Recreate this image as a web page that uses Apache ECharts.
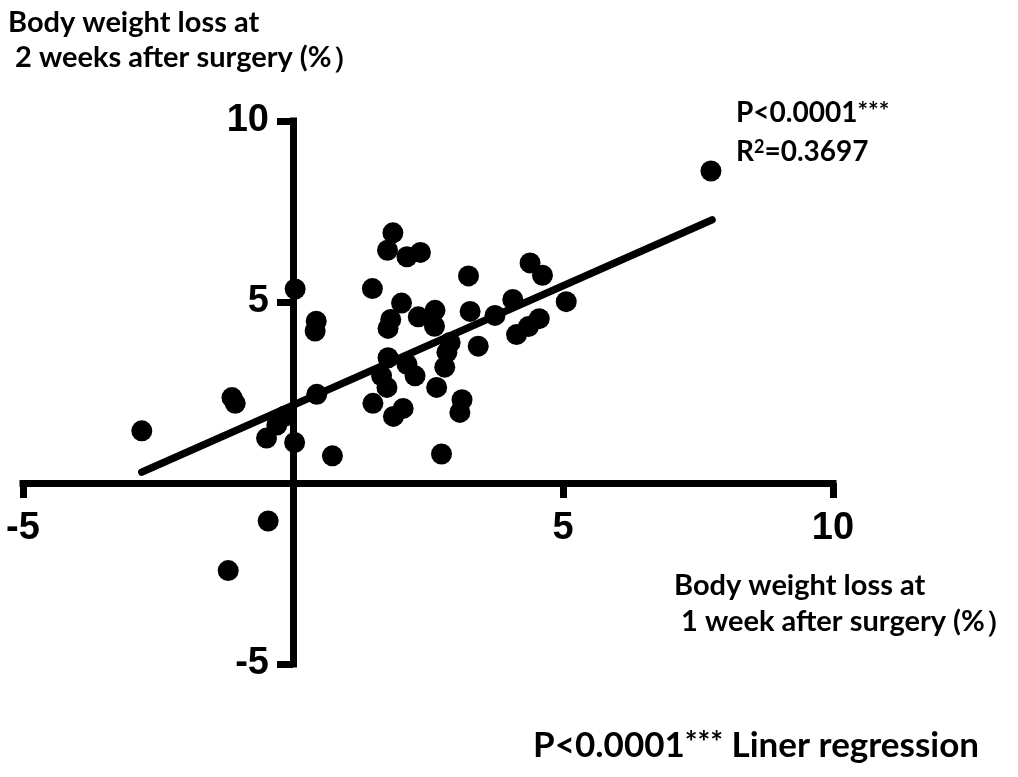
<!DOCTYPE html>
<html>
<head>
<meta charset="utf-8">
<script src="https://cdn.jsdelivr.net/npm/echarts@6/dist/echarts.min.js"></script>
<style>
html,body{margin:0;padding:0;background:#fff;}
#c{width:1018px;height:777px;}
</style>
</head>
<body>
<div id="c"></div>
<script>
// Body weight loss at 1 week after surgery (%) -- x
const week1Loss = [-2.80,-1.13,-1.07,-0.49,-0.30,-0.15,0.03,0.04,0.43,0.41,0.44,0.73,-0.46,-1.20,
  1.47,1.85,1.75,2.11,2.36,3.25,2.01,1.81,1.76,2.32,2.63,2.62,3.28,2.91,2.85,3.43,1.76,2.11,2.26,
  1.64,1.74,2.66,1.48,1.86,2.04,3.13,3.09,2.75,4.39,4.62,4.07,5.06,3.74,4.56,4.36,4.14,7.74,2.81];
// Body weight loss at 2 weeks after surgery (%) -- y
const week2Loss = [1.44,2.36,2.20,1.24,1.60,1.85,1.12,5.36,4.47,4.20,2.45,0.75,-1.05,-2.42,
  5.37,6.91,6.43,6.25,6.37,5.72,4.97,4.52,4.27,4.59,4.77,4.33,4.74,3.88,3.61,3.78,3.46,3.28,2.96,
  2.96,2.64,2.64,2.20,1.84,2.06,2.30,1.95,0.80,6.08,5.74,5.07,5.01,4.63,4.54,4.32,4.10,8.62,3.20];
// regression line end points
const regressionX = [-2.80, 7.76];
const regressionY = [0.30, 7.27];
const xTicks = [-5, 5, 10];
const yTicks = [-5, 5, 10];

const points = week1Loss.map((x, i) => [x, week2Loss[i]]);
const fitLine = regressionX.map((x, i) => [x, regressionY[i]]);

const W = 1018, H = 777;
const G = {left: 23, right: 185, top: 121, bottom: 113};
const gw = W - G.left - G.right, gh = H - G.top - G.bottom;
// shift axes so they cross at the origin (0,0)
const yAxisOffset = -gw * (0 - (-5)) / 15;
const xAxisOffset = -gh * (0 - (-5)) / 15;

const chart = echarts.init(document.getElementById('c'));
const bodyFont = 'Lato, "Open Sans", sans-serif';
const axisFont = '"Liberation Sans Narrow", "Liberation Sans", Arial, sans-serif';

chart.setOption({
  animation: false,
  backgroundColor: '#fff',
  grid: {left: G.left, right: G.right, top: G.top, bottom: G.bottom, containLabel: false, outerBoundsMode: 'none'},
  xAxis: {
    type: 'value', min: -5, max: 10, interval: 5, position: 'bottom', offset: xAxisOffset,
    splitLine: {show: false},
    axisLine: {onZero: false, lineStyle: {color: '#000', width: 7, cap: 'square'}},
    axisTick: {length: 15, lineStyle: {color: '#000', width: 7}},
    axisLabel: {
      margin: 27, color: '#000', fontSize: 38, fontWeight: 'bold', fontFamily: axisFont,
      formatter: v => (xTicks.indexOf(v) >= 0 ? String(v) : '')
    }
  },
  yAxis: {
    type: 'value', min: -5, max: 10, interval: 5, position: 'left', offset: yAxisOffset,
    splitLine: {show: false},
    axisLine: {onZero: false, lineStyle: {color: '#000', width: 7, cap: 'square'}},
    axisTick: {length: 16, lineStyle: {color: '#000', width: 7}},
    axisLabel: {
      margin: 24, color: '#000', fontSize: 38, fontWeight: 'bold', fontFamily: axisFont,
      formatter: v => (yTicks.indexOf(v) >= 0 ? String(v) : '')
    }
  },
  series: [
    {
      type: 'scatter', data: points, symbol: 'circle', symbolSize: 21,
      itemStyle: {color: '#000', opacity: 1}, z: 3
    },
    {
      type: 'line', data: fitLine, showSymbol: false, symbol: 'none',
      lineStyle: {color: '#000', width: 7.5, cap: 'round'}, z: 4
    }
  ],
  graphic: [
    {type: 'text', left: 8, top: 8, style: {text: 'Body weight loss at', font: 'bold 29px ' + bodyFont, fill: '#000'}},
    {type: 'text', left: 8, top: 43, style: {text: ' 2 weeks after surgery (%）', font: 'bold 29px ' + bodyFont, fill: '#000'}},
    {type: 'text', left: 674, top: 571, style: {text: 'Body weight loss at', font: 'bold 29px ' + bodyFont, fill: '#000'}},
    {type: 'text', left: 674, top: 607, style: {text: ' 1 week after surgery (%）', font: 'bold 29px ' + bodyFont, fill: '#000'}},
    {type: 'text', left: 736, top: 99, style: {
      text: '{t|P<0.0001}{s|***}', fill: '#000',
      rich: {t: {fontSize: 28, fontWeight: 'bold', fontFamily: bodyFont, color: '#000'},
             s: {fontSize: 25, fontWeight: 'bold', fontFamily: bodyFont, color: '#000', verticalAlign: 'top', lineHeight: 20}}
    }},
    {type: 'text', left: 736, top: 138, style: {
      text: '{t|R}{s|2}{t|=0.3697}', fill: '#000',
      rich: {t: {fontSize: 28, fontWeight: 'bold', fontFamily: bodyFont, color: '#000'},
             s: {fontSize: 18, fontWeight: 'bold', fontFamily: bodyFont, color: '#000', verticalAlign: 'top'}}
    }},
    {type: 'text', left: 533, top: 728, style: {
      text: '{t|P<0.0001}{s|***}{t| Liner regression}', fill: '#000',
      rich: {t: {fontSize: 35, fontWeight: 'bold', fontFamily: bodyFont, color: '#000'},
             s: {fontSize: 30, fontWeight: 'bold', fontFamily: bodyFont, color: '#000', verticalAlign: 'top', lineHeight: 24}}
    }}
  ]
});
</script>
</body>
</html>
